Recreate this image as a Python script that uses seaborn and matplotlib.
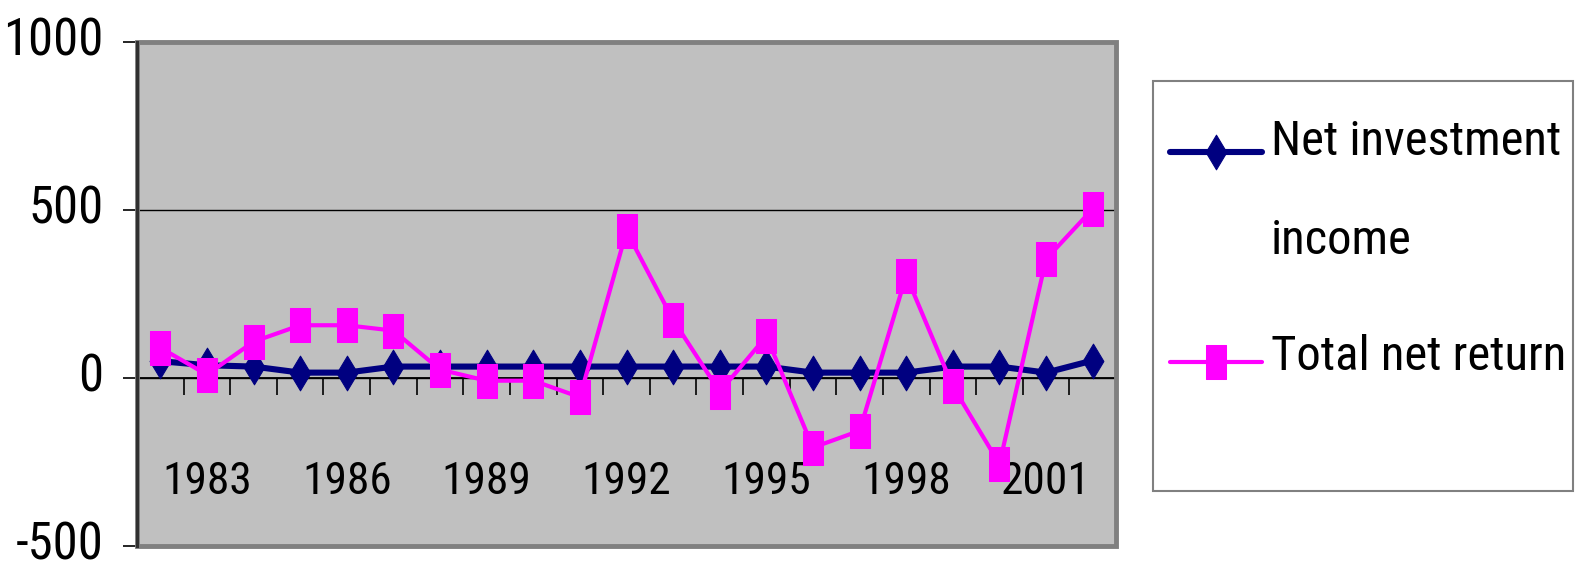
import os
import matplotlib
matplotlib.use("Agg")
import matplotlib.pyplot as plt
from matplotlib import font_manager as fm
from matplotlib.font_manager import FontProperties
from matplotlib.legend_handler import HandlerLine2D
from matplotlib.path import Path
from matplotlib.patches import Rectangle
from matplotlib.textpath import TextPath
from matplotlib.ticker import FixedLocator
import pandas as pd
import seaborn as sns

# Annual figures, 1982-2002
years = list(range(1982, 2003))
net_investment_income = [50, 38, 34, 16, 16, 34, 34, 34, 34, 34, 34,
                         34, 34, 34, 16, 16, 16, 34, 34, 16, 52]
total_net_return = [90, 10, 108, 157, 157, 141, 25, -8, -8, -57, 437,
                    173, -41, 124, -207, -157, 305, -25, -256, 354, 503]
series_names = ["Net investment\nincome", "Total net return"]
year_labels = ["1983", "1986", "1989", "1992", "1995", "1998", "2001"]
y_ticks = [-500, 0, 500, 1000]

DPI = 100
W, H = 1576, 570

sns.set_style("white")
plt.rcParams["font.family"] = ["Liberation Sans", "DejaVu Sans"]
for key in ("text.color", "xtick.color", "ytick.color", "axes.labelcolor"):
    plt.rcParams[key] = "black"


def ink(text, prop):
    return TextPath((0, 0), text, size=100, prop=prop).get_extents()


def pick_font():
    """Narrow sans face whose digit proportions are closest to tall, tight numerals."""
    files = [f.fname for f in fm.fontManager.ttflist]
    wanted = ["liberationsansnarrow-regular", "robotocondensed-regular",
              "notosans-condensed.", "notosans-semicondensed.",
              "notosans-extracondensed.", "opensans_condensed-regular",
              "opensans-condensed-regular", "opensanscondensed-regular",
              "opensans_semicondensed-regular", "dejavusanscondensed."]
    target = 89 / 50
    best, best_err = None, None
    for fn in files:
        base = os.path.basename(fn).lower()
        if not any(w in base for w in wanted):
            continue
        fp = FontProperties(fname=fn)
        try:
            e = ink("1000", fp)
        except Exception:
            continue
        err = abs(e.width / e.height - target)
        if best_err is None or err < best_err:
            best, best_err = fp, err
    return best if best is not None else FontProperties(family="Liberation Sans")


BASE_FONT = pick_font()


def fit_font(text, width_px, height_px, stretch=1.0):
    """Font sized so that the ink of `text` roughly fills the given box."""
    e = ink(text, BASE_FONT)
    s_w = width_px * 72 / DPI * 100 / e.width * stretch
    s_h = height_px * 72 / DPI * 100 / e.height
    fp = BASE_FONT.copy()
    fp.set_size(min(s_w, s_h))
    return fp


fp_y = fit_font("1000", 89, 50, 1.05)
fp_x = fit_font("1983", 77, 44, 1.08)
fp_leg = fit_font("Net investment", 285, 51)

df_income = pd.DataFrame({"year": years, "value": net_investment_income})
df_return = pd.DataFrame({"year": years, "value": total_net_return})

# tall diamond and tall rectangle markers
diamond = Path([(0, -0.5), (0.3, 0), (0, 0.5), (-0.3, 0), (0, -0.5)], closed=True)
tall_box = Path([(-0.3, -0.5), (0.3, -0.5), (0.3, 0.5), (-0.3, 0.5), (-0.3, -0.5)],
                closed=True)

fig = plt.figure(figsize=(W / DPI, H / DPI), dpi=DPI)
ax = fig.add_axes([137 / W, 1 - 546 / H, (1116 - 137) / W, (546 - 42) / H])
ax.set_facecolor("#C0C0C0")

sns.lineplot(data=df_income, x="year", y="value", ax=ax, color="#000080",
             linewidth=4.4, marker=diamond, markersize=25,
             markeredgecolor="#000080", markerfacecolor="#000080",
             label=series_names[0], zorder=3)
sns.lineplot(data=df_return, x="year", y="value", ax=ax, color="#FF00FF",
             linewidth=3, marker=tall_box, markersize=24,
             markeredgecolor="#FF00FF", markerfacecolor="#FF00FF",
             label=series_names[1], zorder=4)
handles, labels = ax.get_legend_handles_labels()
if ax.get_legend() is not None:
    ax.get_legend().remove()

ax.set_xlim(years[0] - 0.5, years[-1] + 0.5)
ax.set_ylim(-500, 1000)
ax.set_xlabel("")
ax.set_ylabel("")

# value axis
ax.set_yticks(y_ticks, [str(v) for v in y_ticks], fontproperties=fp_y, va="center")
ax.tick_params(axis="y", which="major", direction="out", length=10, width=1.2,
               color="black", pad=14, left=True)
ax.yaxis.grid(True, color="black", linewidth=1)
ax.set_axisbelow(True)

# category axis crossing at zero
ax.spines["bottom"].set_position(("data", 0))
ax.spines["bottom"].set_color("black")
ax.spines["bottom"].set_linewidth(1.3)
ax.set_xticks([int(s) for s in year_labels], year_labels, fontproperties=fp_x)
ax.xaxis.set_minor_locator(FixedLocator([y - 0.5 for y in years] + [years[-1] + 0.5]))
ax.tick_params(axis="x", which="major", length=0, pad=60)
ax.tick_params(axis="x", which="minor", direction="out", length=12, width=1.2,
               color="black", bottom=True)

# plot-area border
for side in ("top", "right"):
    ax.spines[side].set_visible(False)
ax.spines["left"].set_color("#303030")
ax.spines["left"].set_linewidth(2.2)
ax.spines["left"].set_zorder(6)
ax.add_patch(Rectangle((0, 0), 1, 1, transform=ax.transAxes, fill=False,
                       edgecolor="#808080", linewidth=3.5, zorder=5, clip_on=False))

# legend geometry, in px from the top of the figure
renderer = fig.canvas.get_renderer()
_, lp_h, lp_d = renderer.get_text_width_height_descent("lp", fp_leg, ismath=False)
asc, desc = lp_h - lp_d, lp_d
em = fp_leg.get_size_in_points() * DPI / 72
cap_mid = ink("N", fp_leg).y1 / 100 * em / 2
first_base = 138 + cap_mid        # lines centred where the entries sit
second_base = 227 + cap_mid
third_base = 343 + cap_mid


class ShiftedLine(HandlerLine2D):
    def __init__(self, shift_pt, **kw):
        super().__init__(**kw)
        self.shift_pt = shift_pt

    def create_artists(self, legend, orig_handle, xdescent, ydescent,
                       width, height, fontsize, trans):
        return super().create_artists(legend, orig_handle, xdescent, ydescent,
                                      width, height + 2 * self.shift_pt,
                                      fontsize, trans)


block_mid = ((first_base - asc) + (second_base + desc)) / 2
shift1 = (block_mid + 0.5 * asc - 0.35 * em - 147) * 72 / DPI
shift2 = (third_base - 0.35 * em - 352) * 72 / DPI

fig.patches.append(Rectangle((1153 / W, 1 - 491 / H), (1573 - 1153) / W,
                             (491 - 81) / H, transform=fig.transFigure,
                             facecolor="white", edgecolor="#808080", linewidth=1.5))
leg = fig.legend(handles, labels, loc="upper left",
                 bbox_to_anchor=(1170 / W, 1 - (first_base - asc) / H),
                 frameon=False, borderpad=0, borderaxespad=0,
                 handlelength=92 / em, handletextpad=9 / em,
                 labelspacing=(third_base - second_base - asc - desc) / em,
                 prop=fp_leg,
                 handler_map={handles[0]: ShiftedLine(shift1),
                              handles[1]: ShiftedLine(shift2)})
for t in leg.get_texts():
    t.set_color("black")
    t.set_linespacing((second_base - first_base) / asc)

fig.savefig("out.png", dpi=DPI, facecolor="white")
